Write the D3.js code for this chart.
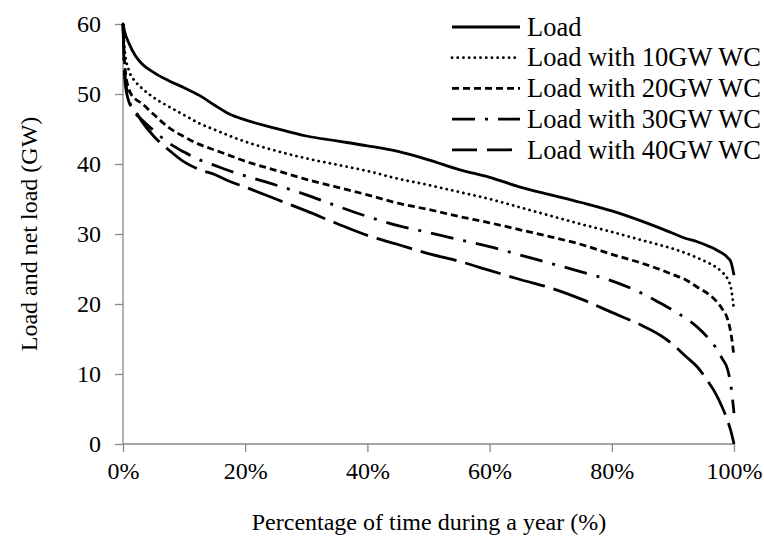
<!DOCTYPE html>
<html><head><meta charset="utf-8">
<script src="https://cdn.jsdelivr.net/npm/d3@7"></script>
<style>
html,body{margin:0;padding:0;background:#fff;}
svg{display:block;}
svg text{font-family:"Liberation Serif","DejaVu Serif","Noto Serif",serif !important;fill:#000;}
</style></head>
<body><svg id="c" width="764" height="545"></svg>
<script>
// ---- data ----
const timePct = [0,0.3,1,2,3,5,7.5,10,12.5,15,17.5,20,25,30,35,40,45,50,55,60,65,70,75,80,85,88,90,92,94,96,97,98,99,99.5,100];
const load     = [60,58.8,57.2,55.5,54.4,53.1,51.9,50.9,49.8,48.4,47.1,46.3,45.1,44.0,43.3,42.6,41.8,40.6,39.2,38.1,36.7,35.6,34.5,33.3,31.8,30.8,30.1,29.4,28.9,28.2,27.8,27.3,26.6,26.0,24.1];
const load10GW = [60,56,53.3,51.8,50.9,49.5,48.2,47,45.8,44.9,44.0,43.2,41.9,40.8,39.9,39.0,37.9,37.0,36.0,35.0,33.8,32.6,31.4,30.3,29.1,28.4,27.9,27.3,26.6,25.8,25.3,24.6,23.5,22.3,19.1];
const load20GW = [60,54,50.6,49.3,48.7,47.1,45.2,43.9,42.8,42.0,41.2,40.4,39.1,37.8,36.7,35.6,34.4,33.5,32.5,31.6,30.6,29.6,28.5,27.1,25.8,24.9,24.2,23.5,22.4,21.3,20.5,19.4,17.7,15.8,12.5];
const load30GW = [60,53,49.2,47.3,46.4,44.8,43.0,41.7,40.6,39.8,39.0,38.3,37.0,35.6,34.0,32.5,31.2,30.2,29.2,28.2,27.0,25.8,24.6,23.3,21.5,20.1,19.1,18.0,16.7,14.9,13.8,12.3,10.5,8.3,4.4];
const load40GW = [60,52,48.8,47.6,46.2,44.0,42.0,40.3,39.2,38.5,37.5,36.7,35.0,33.3,31.5,29.8,28.5,27.2,26.1,24.8,23.5,22.3,20.7,18.8,16.9,15.5,14.2,12.6,11.0,8.6,7.2,5.4,3.2,1.8,0];
const seriesNames = ["Load","Load with 10GW WC","Load with 20GW WC","Load with 30GW WC","Load with 40GW WC"];
const xTicks = [0,20,40,60,80,100];
const yTicks = [0,10,20,30,40,50,60];
const xTitle = "Percentage of time during a year (%)";
const yTitle = "Load and net load (GW)";

// ---- styles ----
const FONT = '"Liberation Serif","DejaVu Serif","Noto Serif",serif';
const dashChart  = [null, "0.1,5.6", "7,4", "23,10,3,10", "37,9"];
const dashLegend = [null, "0.1,5.6", "7,4", "23,10,3,10", "25,10"];
const caps = ["butt","round","butt","butt","butt"];
const widths = [2.8,2.8,2.8,2.8,2.8];

const svg = d3.select("#c");
const x = d3.scaleLinear().domain([0,100]).range([123,734]);
const y = d3.scaleLinear().domain([0,60]).range([444,24]);

// axes
const axisColor = "#898989";
const yAxis = svg.append("g").attr("transform","translate(123,0)")
  .call(d3.axisLeft(y).tickValues(yTicks).tickSize(8).tickPadding(14).tickFormat(d3.format("d")));
const xAxis = svg.append("g").attr("transform","translate(0,444)")
  .call(d3.axisBottom(x).tickValues(xTicks).tickSize(8).tickPadding(10).tickFormat(d=>d+"%"));
[yAxis,xAxis].forEach(a=>{
  a.attr("font-family",FONT);
  a.select(".domain").attr("stroke",axisColor).attr("stroke-width",1.3);
  a.selectAll(".tick line").attr("stroke",axisColor).attr("stroke-width",1.3);
  a.selectAll(".tick text").attr("font-size",24).attr("fill","#000").attr("font-family",FONT);
});
yAxis.select(".domain").attr("d","M0,24V444");
xAxis.select(".domain").attr("d","M123,0H734");

// lines
const allSeries = [load,load10GW,load20GW,load30GW,load40GW];
const line = d3.line().x((d,i)=>x(timePct[i])).y(d=>y(d)).curve(d3.curveMonotoneX);
allSeries.forEach((s,k)=>{
  svg.append("path").datum(s).attr("d",line)
    .attr("fill","none").attr("stroke","#000").attr("stroke-width",widths[k])
    .attr("stroke-linecap",caps[k]).attr("stroke-linejoin","round")
    .attr("stroke-dasharray",dashChart[k]);
});

// legend
const lg = svg.append("g").attr("font-family",FONT);
seriesNames.forEach((n,k)=>{
  const yy = 27 + k*30.7;
  lg.append("line").attr("x1",452).attr("x2",520).attr("y1",yy).attr("y2",yy)
    .attr("stroke","#000").attr("stroke-width",2.8).attr("stroke-linecap",caps[k])
    .attr("stroke-dasharray",dashLegend[k]);
  lg.append("text").attr("x",527).attr("y",yy).attr("dy","0.33em")
    .attr("font-size",26.5).attr("font-family",FONT).text(n);
});

// titles
svg.append("text").attr("x",429).attr("y",530).attr("text-anchor","middle")
  .attr("font-size",24).attr("font-family",FONT).text(xTitle);
svg.append("text").attr("transform","translate(29,234) rotate(-90)").attr("text-anchor","middle")
  .attr("dy","0.35em").attr("font-size",24).attr("font-family",FONT).text(yTitle);
</script></body></html>
